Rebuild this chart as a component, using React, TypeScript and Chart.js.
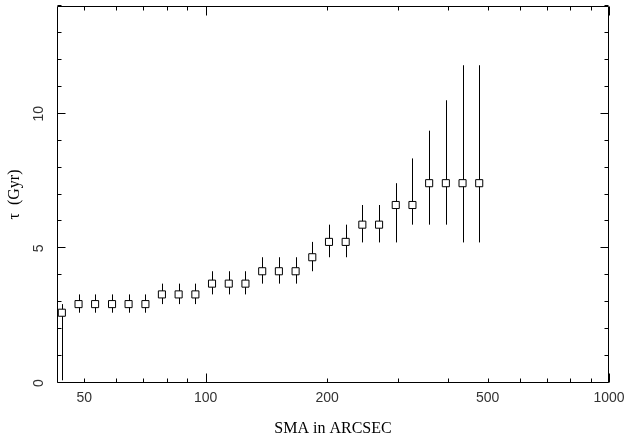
import React, { useEffect, useRef } from 'react';
import { Chart, registerables } from 'chart.js';

Chart.register(...registerables);

// SMA (arcsec) of each measured ellipse
const sma = [44.0, 48.4, 53.2, 58.6, 64.4, 70.9, 77.9, 85.7, 94.3, 103.7, 114.1, 125.5, 138.1, 151.9, 167.1, 183.8, 202.2, 222.4, 244.6, 269.1, 296.0, 325.6, 358.2, 394.0, 433.4, 476.7];
// tau (Gyr)
const tau = [2.61, 2.93, 2.93, 2.93, 2.93, 2.93, 3.29, 3.29, 3.29, 3.69, 3.69, 3.69, 4.15, 4.15, 4.15, 4.67, 5.24, 5.24, 5.88, 5.88, 6.61, 6.61, 7.42, 7.42, 7.42, 7.42];
// lower / upper ends of the error bars
const tauLow = [0.1, 2.61, 2.61, 2.61, 2.61, 2.61, 2.93, 2.93, 2.93, 3.29, 3.29, 3.29, 3.69, 3.69, 3.69, 4.15, 4.67, 4.67, 5.22, 5.22, 5.22, 5.88, 5.88, 5.88, 5.22, 5.22];
const tauHigh = [2.93, 3.29, 3.29, 3.29, 3.29, 3.29, 3.69, 3.69, 3.69, 4.15, 4.15, 4.15, 4.67, 4.67, 4.67, 5.24, 5.88, 5.88, 6.61, 6.61, 7.42, 8.34, 9.37, 10.5, 11.8, 11.8];

const xMin = 42.8;
const xMax = 1000;
const yMin = 0;
const yMax = 14;
const xLabelTicks = [50, 100, 200, 500, 1000];
const xMajorTicks = [100, 1000];
const xMinorTicks = [50, 60, 70, 80, 90, 200, 300, 400, 500, 600, 700, 800, 900];
const yLabelTicks = [0, 5, 10];
const yMajorTicks = [0, 5, 10];
const yMinorTicks = [1, 2, 3, 4, 6, 7, 8, 9, 11, 12, 13, 14];
const xTitle = 'SMA in ARCSEC';
const yTitle = 'τ  (Gyr)';

const framePlugin = {
  id: 'frameAndErrors',
  beforeDatasetsDraw(chart: any) {
    const { ctx, scales } = chart;
    const x = scales.x;
    const y = scales.y;
    ctx.save();
    ctx.strokeStyle = '#000';
    ctx.lineWidth = 1;
    ctx.beginPath();
    for (let i = 0; i < sma.length; i++) {
      const px = Math.round(x.getPixelForValue(sma[i])) + 0.5;
      ctx.moveTo(px, y.getPixelForValue(tauLow[i]));
      ctx.lineTo(px, y.getPixelForValue(tauHigh[i]));
    }
    ctx.stroke();
    ctx.restore();
  },
  afterDraw(chart: any) {
    const { ctx, chartArea: a, scales } = chart;
    const x = scales.x;
    const y = scales.y;
    const L = a.left + 0.5;
    const R = a.right - 0.5;
    const T = a.top + 0.5;
    const B = a.bottom - 0.5;
    ctx.save();
    ctx.strokeStyle = '#000';
    ctx.lineWidth = 1;
    ctx.beginPath();
    ctx.rect(L, T, R - L, B - T);
    const xt = (v: number, len: number) => {
      const px = Math.round(x.getPixelForValue(v)) + 0.5;
      ctx.moveTo(px, B);
      ctx.lineTo(px, B - len);
      ctx.moveTo(px, T);
      ctx.lineTo(px, T + len);
    };
    const yt = (v: number, len: number) => {
      const py = Math.round(y.getPixelForValue(v)) - 0.5;
      ctx.moveTo(L, py);
      ctx.lineTo(L + len, py);
      ctx.moveTo(R, py);
      ctx.lineTo(R - len, py);
    };
    xMajorTicks.forEach((v) => xt(v, 9));
    xMinorTicks.forEach((v) => xt(v, 4));
    yMajorTicks.forEach((v) => yt(v, 8));
    yMinorTicks.forEach((v) => yt(v, 4));
    ctx.stroke();
    ctx.restore();
  },
};

export default function App() {
  const ref = useRef<HTMLCanvasElement>(null);
  useEffect(() => {
    if (!ref.current) return;
    const chart = new Chart(ref.current, {
      type: 'scatter',
      data: {
        datasets: [
          {
            data: sma.map((s, i) => ({ x: s, y: tau[i] })),
            pointStyle: 'rect',
            pointRadius: 5,
            pointHoverRadius: 5,
            borderColor: '#000',
            backgroundColor: '#fff',
            borderWidth: 1,
            showLine: false,
          },
        ],
      },
      options: {
        responsive: false,
        animation: false,
        devicePixelRatio: 1,
        layout: { padding: { top: 6, right: 20, left: 0, bottom: 0 } },
        plugins: { legend: { display: false }, tooltip: { enabled: false } },
        events: [],
        scales: {
          x: {
            type: 'logarithmic',
            position: 'bottom',
            min: xMin,
            max: xMax,
            grid: { display: false, drawTicks: false },
            border: { display: false },
            ticks: {
              autoSkip: false,
              minRotation: 0,
              maxRotation: 0,
              padding: 7,
              color: '#333',
              font: { family: 'Liberation Sans', size: 14 },
              callback: (v: any) => String(v),
            },
            afterBuildTicks: (s: any) => {
              s.ticks = xLabelTicks.map((v) => ({ value: v }));
            },
            afterFit: (s: any) => {
              s.height = 60;
              s.paddingLeft = 0;
              s.paddingRight = 0;
            },
            title: {
              display: true,
              text: xTitle,
              color: '#000',
              font: { family: 'Liberation Serif', size: 16 },
              padding: { top: 0, bottom: 5 },
            },
          },
          y: {
            type: 'linear',
            position: 'left',
            min: yMin,
            max: yMax,
            grid: { display: false, drawTicks: false },
            border: { display: false },
            ticks: {
              autoSkip: false,
              minRotation: 90,
              maxRotation: 90,
              crossAlign: 'center',
              padding: 10,
              color: '#333',
              font: { family: 'Liberation Sans', size: 14 },
            },
            afterBuildTicks: (s: any) => {
              s.ticks = yLabelTicks.map((v) => ({ value: v }));
            },
            afterFit: (s: any) => {
              s.width = 57;
              s.paddingTop = 0;
              s.paddingBottom = 0;
            },
            title: {
              display: true,
              text: yTitle,
              color: '#000',
              font: { family: 'Liberation Serif', size: 16 },
              padding: { top: 5, bottom: 0 },
            },
          },
        },
      },
      plugins: [framePlugin],
    } as any);
    return () => chart.destroy();
  }, []);
  return (
    <div style={{ position: 'absolute', left: 0, top: 0, width: 629, height: 443, background: '#fff' }}>
      <canvas ref={ref} width={629} height={443} style={{ display: 'block' }} />
    </div>
  );
}
